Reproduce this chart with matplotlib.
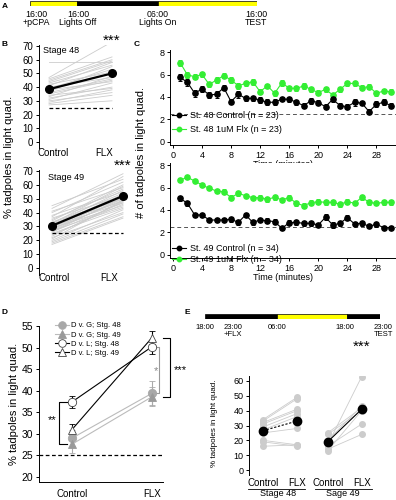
import numpy as np
import matplotlib
matplotlib.use('Agg')
import matplotlib.pyplot as plt
from matplotlib.lines import Line2D

plt.rcParams['font.family'] = ['Liberation Sans', 'DejaVu Sans']
plt.rcParams['axes.linewidth'] = 0.7
plt.rcParams['xtick.major.width'] = 0.7
plt.rcParams['ytick.major.width'] = 0.7

# ---- data ----
# A: timeline
a_labels = ['16:00\n+pCPA', '16:00\nLights Off', '06:00\nLights On', '16:00\nTEST']
a_colors = ['#ffff00', 'black', '#ffff00']

# B: % tadpoles in light quad, individual animals (control -> FLX)
b48_ctrl = [58, 47, 46, 45, 44, 43, 42, 41, 40, 39, 38, 38, 37, 36, 35, 34, 33, 32, 31, 30, 29, 28, 27]
b48_flx = [58, 73, 62, 60, 59, 56, 51, 58, 47, 53, 44, 50, 55, 46, 45, 39, 48, 40, 43, 36, 38, 34, 30]
b48_mean = [38.5, 50]
b49_ctrl = [45, 43, 41, 40, 38, 37, 36, 35, 34, 33, 33, 32, 32, 31, 31, 30, 30, 29, 29, 28, 28, 27, 27,
            26, 26, 25, 24, 23, 22, 21, 20, 19, 18, 17]
b49_flx = [64, 68, 58, 62, 55, 66, 52, 57, 60, 50, 54, 59, 48, 53, 56, 47, 51, 53, 45, 49, 52, 44, 50,
           47, 51, 43, 46, 48, 40, 49, 42, 39, 37, 36]
b49_mean = [30.5, 52]
chance = 25

# C: # of tadpoles in light quad per minute
minutes = np.arange(1, 31)
c48_ctrl = [5.75, 5.3, 4.33, 4.71, 4.18, 4.24, 4.83, 3.59, 4.24, 3.88, 3.88, 3.73, 3.53, 3.53, 3.82,
            3.79, 3.53, 3.23, 3.67, 3.5, 3.14, 3.79, 3.23, 3.14, 3.53, 3.45, 2.7, 3.35, 3.53, 3.23]
c48_ctrl_err = [0.3, 0.3, 0.3, 0.25, 0.25, 0.3, 0.25, 0.25, 0.3, 0.25, 0.25, 0.3, 0.25, 0.25, 0.2,
                0.25, 0.2, 0.2, 0.25, 0.2, 0.2, 0.2, 0.25, 0.2, 0.3, 0.2, 0.2, 0.25, 0.25, 0.2]
c48_flx = [7.05, 5.96, 5.81, 6.01, 5.12, 5.51, 5.9, 5.51, 5.0, 5.21, 5.36, 4.47, 5.0, 4.33, 5.27,
           4.77, 4.77, 4.98, 4.68, 4.39, 4.68, 4.18, 4.68, 5.21, 5.21, 4.83, 4.92, 4.33, 4.53, 4.47]
c48_flx_err = [0.25, 0.25, 0.25, 0.25, 0.2, 0.25, 0.25, 0.25, 0.25, 0.2, 0.25, 0.2, 0.2, 0.2, 0.25,
               0.2, 0.2, 0.25, 0.25, 0.2, 0.2, 0.2, 0.2, 0.25, 0.25, 0.2, 0.2, 0.2, 0.2, 0.2]
c49_ctrl = [5.04, 4.59, 3.56, 3.56, 3.11, 3.11, 3.11, 3.17, 2.9, 3.56, 2.9, 3.11, 3.05, 2.96, 2.37,
            2.87, 2.9, 2.81, 2.81, 2.67, 3.35, 2.67, 2.81, 3.32, 2.76, 2.81, 2.55, 2.73, 2.43, 2.43]
c49_ctrl_err = [0.2, 0.25, 0.2, 0.2, 0.2, 0.2, 0.2, 0.25, 0.2, 0.2, 0.2, 0.2, 0.2, 0.2, 0.15,
                0.2, 0.2, 0.2, 0.2, 0.2, 0.25, 0.25, 0.2, 0.2, 0.2, 0.2, 0.15, 0.2, 0.15, 0.15]
c49_flx = [6.67, 6.9, 6.58, 6.22, 5.93, 5.69, 5.63, 5.1, 5.48, 5.27, 5.1, 5.1, 4.95, 5.13, 4.9,
           5.1, 4.59, 4.39, 4.65, 4.74, 4.68, 4.68, 4.5, 4.74, 4.6, 5.13, 4.68, 4.59, 4.68, 4.68]
c49_flx_err = [0.2, 0.15, 0.15, 0.2, 0.15, 0.2, 0.2, 0.2, 0.2, 0.15, 0.15, 0.2, 0.2, 0.2, 0.15,
               0.2, 0.2, 0.2, 0.2, 0.2, 0.2, 0.2, 0.2, 0.2, 0.2, 0.2, 0.2, 0.15, 0.2, 0.2]
c_chance = 2.5

# D: group means (Control, FLX) +- SEM
d_names = ['D v. G; Stg. 48', 'D v. G; Stg. 49', 'D v. L; Stg. 48', 'D v. L; Stg. 49']
d_means = [[29.0, 39.4], [27.6, 38.6], [37.4, 50.2], [31.0, 52.3]]
d_errs = [[1.8, 2.8], [2.0, 2.2], [1.3, 1.6], [1.3, 1.5]]

# E: individual trials and means
e_labels = ['18:00', '23:00\n+FLX', '06:00', '18:00', '23:00\nTEST']
e_colors = ['black', '#ffff00', 'black']
e48_ctrl = [34, 33, 32, 31, 29, 27, 25, 20, 19, 16]
e48_flx = [49, 48, 41, 40, 38, 36, 28, 17, 16, 17]
e48_mean = [26.5, 33]
e49_ctrl = [25, 24, 20, 17, 16, 14, 13]
e49_flx = [42, 40, 43, 63, 31, 24, 40]
e49_mean = [19, 41]

GREEN = '#33ee33'
GRAY = '#cccccc'

# ---- layout helpers (pixel coordinates, origin top-left) ----
W, H = 396, 500


def box(l, t, r, b):
    return [l / W, 1 - b / H, (r - l) / W, (b - t) / H]


def fx(x):
    return x / W


def fy(y):
    return 1 - y / H


def clean(ax):
    ax.spines['top'].set_visible(False)
    ax.spines['right'].set_visible(False)


def timeline(rect, widths, colors):
    ax = fig.add_axes(rect)
    left = 0
    for w, c in zip(widths, colors):
        ax.barh(0, w, left=left, height=1, color=c, edgecolor='black', linewidth=0.5)
        left += w
    ax.set_xlim(0, left)
    ax.set_ylim(-0.5, 0.5)
    ax.axis('off')
    return ax


fig = plt.figure(figsize=(3.96, 5.0), dpi=100)

# ---- A ----
timeline(box(30, 1, 257, 6), [47, 81, 99], a_colors)
for x, lab in zip([36, 78, 158, 256], a_labels):
    fig.text(fx(x), fy(18.5), lab, ha='center', va='center', fontsize=6.3, linespacing=0.95)
fig.text(fx(5), fy(6), 'A', fontsize=6, fontweight='bold', ha='center', va='center')

# ---- B ----
b_sets = [
    (box(39, 45, 125, 148), (-10 / 63, 76 / 63), (-4.4, 70.7), b48_ctrl, b48_flx, b48_mean,
     'Stage 48', [0.06, 0.87], 0.3, (0.05, 0.95)),
    (box(39, 170, 130, 275), (-13 / 71, 78 / 71), (-5, 70.7), b49_ctrl, b49_flx, b49_mean,
     'Stage 49', [0.03, 0.8], -1.5, (0.1, 0.93)),
]
for rect, xl, yl, ctrl, flx, mean, title, tpos, pad, tloc in b_sets:
    ax = fig.add_axes(rect)
    for c, f in zip(ctrl, flx):
        ax.plot([0, 1], [c, f], color=GRAY, lw=0.6, zorder=1)
    ax.plot([0, 1], [chance, chance], 'k--', lw=0.9, dashes=(3, 2), zorder=2)
    ax.plot([0, 1], mean, '-o', color='black', lw=1.6, ms=5.5, zorder=3)
    ax.set_xlim(*xl)
    ax.set_ylim(*yl)
    ax.set_yticks(range(0, 71, 10))
    ax.set_xticks(tpos)
    ax.set_xticklabels(['Control', 'FLX'])
    ax.tick_params(axis='x', length=0, pad=pad, labelsize=7)
    ax.tick_params(axis='y', length=2.5, pad=1.5, labelsize=7)
    clean(ax)
    ax.spines['bottom'].set_visible(False)
    ax.text(tloc[0], tloc[1], title, transform=ax.transAxes, fontsize=6.5, va='center')
    ax.text(1, yl[1] + 3, '***', fontsize=11, ha='center', va='center', clip_on=False)
fig.text(fx(5), fy(45), 'B', fontsize=6, fontweight='bold', ha='center', va='center')
fig.text(fx(9), fy(157), '% tadpoles in light quad.', rotation=90, fontsize=8,
         ha='center', va='center')

# ---- C ----
c_sets = [
    (box(170, 50, 396, 145), c48_ctrl, c48_ctrl_err, c48_flx, c48_flx_err,
     ['St. 48 Control (n = 23)', 'St. 48 1uM Flx (n = 23)'], 111, 0.55),
    (box(170, 163, 396, 258), c49_ctrl, c49_ctrl_err, c49_flx, c49_flx_err,
     ['St. 49 Control (n = 34)', 'St. 49 1uM Flx (n = 34)'], 244, 0.2),
]
for rect, ctrl, cerr, flx, ferr, labels, ly, lsp in c_sets:
    ax = fig.add_axes(rect)
    ax.plot([-0.4, 30.7], [c_chance, c_chance], color='#555555', lw=0.7, dashes=(4, 3), zorder=1)
    ax.errorbar(minutes, ctrl, yerr=cerr, fmt='-o', color='black', ms=3.8, lw=0.8,
                elinewidth=0.7, capsize=1.5, capthick=0.7, zorder=3)
    ax.errorbar(minutes, flx, yerr=ferr, fmt='-o', color=GREEN, ms=3.8, lw=0.8,
                elinewidth=0.7, capsize=1.5, capthick=0.7, zorder=2)
    ax.set_xlim(-0.4, 30.7)
    ax.set_ylim(-0.27, 8.18)
    ax.set_xticks(range(0, 29, 4))
    ax.set_yticks(range(0, 9, 2))
    ax.tick_params(length=2.5, pad=1.5, labelsize=6.5)
    ax.set_xlabel('Time (minutes)', fontsize=6.5, labelpad=0.5)
    clean(ax)
    handles = [Line2D([], [], color='black', marker='o', ms=3.2, lw=0.8),
               Line2D([], [], color=GREEN, marker='o', ms=3.2, lw=0.8)]
    ax.legend(handles, labels, loc='upper left', bbox_to_anchor=(fx(172), fy(ly)),
              bbox_transform=fig.transFigure, frameon=False, fontsize=6.5, handlelength=1.6,
              handletextpad=0.4, borderpad=0, borderaxespad=0, labelspacing=lsp)
fig.text(fx(137), fy(45), 'C', fontsize=6, fontweight='bold', ha='center', va='center')
fig.text(fx(141), fy(152), '# of tadpoles in light quad.', rotation=90, fontsize=8,
         ha='center', va='center')

# ---- D ----
ax = fig.add_axes(box(39, 326, 163, 482))
d_styles = [
    dict(marker='o', mfc='#a8a8a8', mec='#a8a8a8', color='#bbbbbb', ecolor='#aaaaaa'),
    dict(marker='^', mfc='#999999', mec='#999999', color='#bbbbbb', ecolor='#aaaaaa'),
    dict(marker='o', mfc='white', mec='#444444', color='black', ecolor='black'),
    dict(marker='^', mfc='white', mec='#444444', color='black', ecolor='black'),
]
handles = []
for name, m, e, st in zip(d_names, d_means, d_errs, d_styles):
    ax.errorbar([0, 1], m, yerr=e, fmt='-', marker=st['marker'], mfc=st['mfc'], mec=st['mec'],
                mew=0.6, color=st['color'], ecolor=st['ecolor'], ms=6, lw=0.8,
                elinewidth=0.8, capsize=2, capthick=0.8)
    handles.append(Line2D([], [], color=st['color'], marker=st['marker'], mfc=st['mfc'],
                          mec=st['mec'], mew=0.6, ms=5.5, lw=0.8))
ax.axhline(chance, color='black', lw=0.9, dashes=(3, 2))
ax.set_xlim(-0.4125, 1.1375)
ax.set_ylim(18.84, 55)
ax.set_yticks(range(20, 56, 5))
ax.set_xticks([0, 1])
ax.set_xticklabels(['Control', 'FLX'])
ax.tick_params(axis='y', length=2.5, pad=1.5, labelsize=7.5)
ax.tick_params(axis='x', length=0, pad=5, labelsize=7)
clean(ax)
ax.legend(handles, d_names, loc='upper left', bbox_to_anchor=(fx(55), fy(322)),
          bbox_transform=fig.transFigure, frameon=False, fontsize=5.5, handlelength=1.8,
          handletextpad=0.25, borderpad=0, borderaxespad=0, labelspacing=0.25)
# significance brackets
bk = dict(color='black', lw=0.8, clip_on=False)
ax.plot([-0.0625, -0.1625, -0.1625, -0.0625], [d_means[2][0], d_means[2][0],
        d_means[1][0], d_means[1][0]], **bk)
ax.text(-0.25, 33.2, '**', fontsize=8, ha='center', va='center')
ax.plot([1.1375, 1.225, 1.225, 1.1375], [d_means[3][1], d_means[3][1],
        d_means[1][1], d_means[1][1]], **bk)
ax.text(1.36, 44.8, '***', fontsize=8, ha='center', va='center')
ax.plot([1.05, 1.0875, 1.0875, 1.05], [d_means[2][1], d_means[2][1],
        d_means[0][1], d_means[0][1]], color='#999999', lw=0.8, clip_on=False)
ax.text(1.05, 44.5, '*', fontsize=8, ha='center', va='center', color='#888888')
fig.text(fx(5), fy(313), 'D', fontsize=6, fontweight='bold', ha='center', va='center')
fig.text(fx(14), fy(404), '% tadpoles in light quad.', rotation=90, fontsize=8,
         ha='center', va='center')

# ---- E ----
timeline(box(205, 314, 380, 319), [72, 70, 33], e_colors)
for x, lab in zip([205, 233, 277, 345, 383], e_labels):
    fig.text(fx(x), fy(324), lab, ha='center', va='top', fontsize=5.5, linespacing=0.95)
fig.text(fx(187), fy(312), 'E', fontsize=6, fontweight='bold', ha='center', va='center')

ax = fig.add_axes(box(249, 376, 375, 475))
xpos = [0, 1, 1.9, 2.9]
for c, f in zip(e48_ctrl, e48_flx):
    ax.plot(xpos[:2], [c, f], '-o', color=GRAY, ms=4, lw=0.6, zorder=1)
for c, f in zip(e49_ctrl, e49_flx):
    ax.plot(xpos[2:], [c, f], '-o', color=GRAY, ms=4, lw=0.6, zorder=1)
ax.plot(xpos[:2], e48_mean, '--o', color='black', ms=6, lw=0.8, dashes=(2, 1.5), zorder=3)
ax.plot(xpos[2:], e49_mean, '-o', color='black', ms=6, lw=0.8, zorder=3)
ax.set_xlim(-0.41, 3.29)
ax.set_ylim(-3.37, 63.37)
ax.set_yticks(range(0, 61, 10))
ax.set_xticks(xpos)
ax.set_xticklabels(['Control', 'FLX', 'Control', 'FLX'])
ax.tick_params(axis='y', length=2.5, pad=1.5, labelsize=6.5)
ax.tick_params(axis='x', length=0, pad=2, labelsize=7)
clean(ax)
ax.spines['bottom'].set_visible(False)
ax.text(xpos[3], 83, '***', fontsize=11, ha='center', va='center', clip_on=False)
for x0, x1, lab, xc in [(248, 305, 'Stage 48', 278), (315, 372, 'Sage 49', 343)]:
    fig.add_artist(Line2D([fx(x0), fx(x1)], [fy(488.5), fy(488.5)], color='black', lw=0.6))
    fig.text(fx(xc), fy(494), lab, fontsize=6.5, ha='center', va='center')
fig.text(fx(215), fy(423), '% tadpoles in light quad.', rotation=90, fontsize=5.8,
         ha='center', va='center')

fig.savefig('out.png', dpi=100)
